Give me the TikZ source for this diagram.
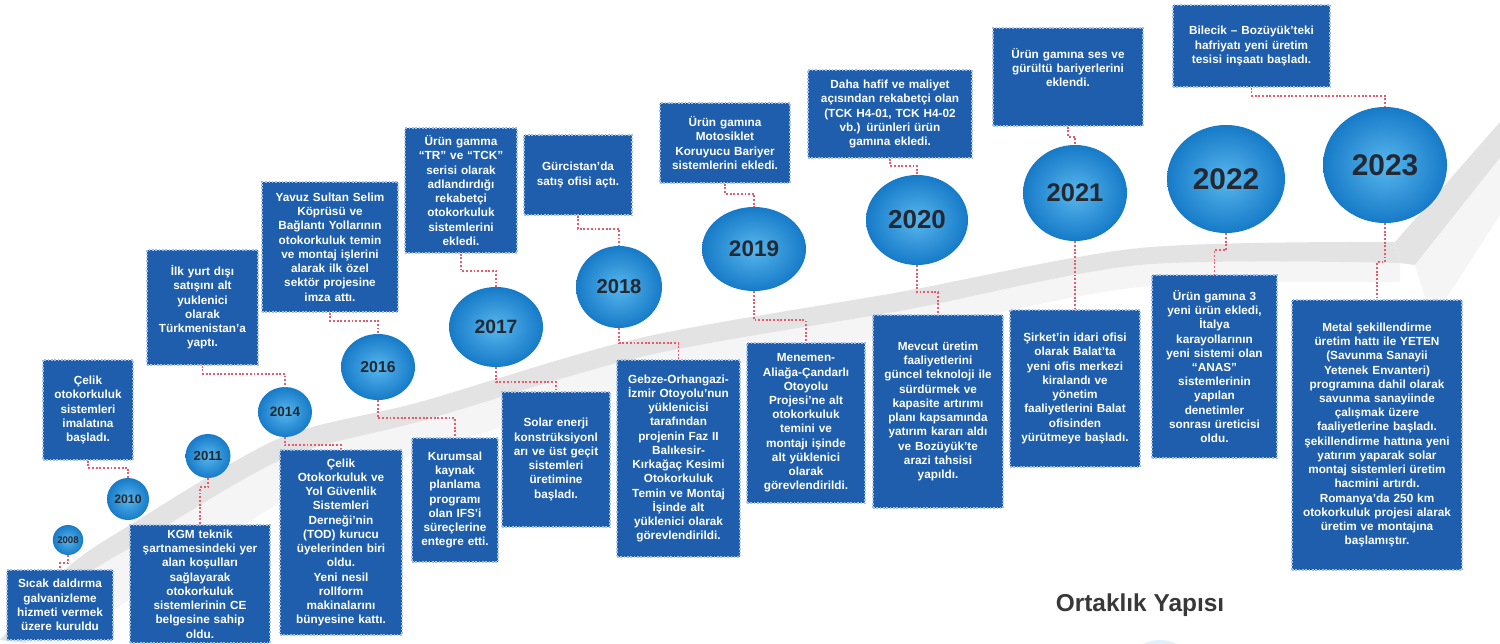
\documentclass[tikz,border=0pt]{standalone}
\usepackage{fontspec}
\setmainfont{Liberation Sans}
\usetikzlibrary{shapes.geometric,calc}

\definecolor{boxblue}{RGB}{30,94,172}
\definecolor{boxedge}{RGB}{160,192,235}
\definecolor{ball}{RGB}{45,165,232}
\definecolor{balldark}{RGB}{22,122,200}
\definecolor{linkred}{RGB}{228,92,112}
\definecolor{yeartext}{RGB}{35,40,50}

\def\px{0.02cm}

\tikzset{
  infobox/.style={fill=boxblue, draw=boxedge, densely dotted, line width=0.9pt,
    inner sep=0pt, align=center, text=white,
    font=\fontsize{6.7}{8.1}\selectfont\bfseries},
  boxsize/.code 2 args={\pgfmathsetmacro\bw{(#1-8)*0.02}%
    \tikzset{minimum width=#1*\px, minimum height=#2*\px, text width=\bw cm}},
  yearball/.style={ellipse, inner sep=0pt, inner color=ball!80!white,
    outer color=balldark, text=yeartext},
  link/.style={linkred, densely dotted, line width=1.1pt},
}

\begin{document}
\begin{tikzpicture}[x=0.02cm, y=-0.02cm]
  \useasboundingbox[fill=white] (0,0) rectangle (1500,643);

  %ribbon
  \fill[gray!8] plot[smooth] coordinates {(25,643) (80,580) (140,542) (285,458) (425,420) (645,356) (905,310) (1140,265) (1400,263)}
     -- plot[smooth] coordinates {(1400,282) (1140,287) (910,332) (650,382) (440,447) (300,492) (150,587) (60,643)} -- cycle;
  \fill[gray!22] plot[smooth] coordinates {(0,640) (67,568) (130,525) (280,438) (420,402) (640,338) (900,292) (1140,248) (1395,242)}
     -- plot[smooth] coordinates {(1400,263) (1140,265) (905,310) (645,356) (425,420) (285,458) (140,542) (80,580) (25,643)} -- cycle;
  \fill[gray!22] (1395,242) -- (1500,122) -- (1500,158) -- (1415,265) -- (1400,263) -- cycle;
  \fill[gray!8] (1415,265) -- (1500,158) -- (1500,215) -- (1432,320) -- cycle;

  %years
  \foreach \name/\x/\y/\w/\h/\fs/\yr in {y08/68/540/30/30/5.5/2008, y10/128/499/42/42/7/2010,
      y11/208/456/45/44/7.5/2011, y14/285/412/54/50/7.7/2014, y16/378/367/74/66/9/2016,
      y17/496/327/94/80/11/2017, y18/619/287/86/82/11.5/2018, y19/754/249/104/84/12.8/2019,
      y20/917/220/102/90/14.8/2020, y21/1075/193/104/96/14.5/2021, y22/1226/179/118/108/17/2022,
      y23/1385/165/124/116/17/2023}{
    \node[yearball, minimum width=\w*\px, minimum height=\h*\px] (\name) at (\x,\y)
      {\fontsize{\fs}{\fs}\selectfont\bfseries \yr};
  }

  %boxes above
  \node[infobox, boxsize={90}{100}] (b10) at (88,410) {Çelik\\otokorkuluk\\sistemleri\\imalatına\\başladı.};
  \node[infobox, boxsize={111}{115}] (b14a) at (202.5,307.5) {İlk yurt dışı\\satışını alt\\yuklenici\\olarak\\Türkmenistan'a\\yaptı.};
  \node[infobox, boxsize={136}{130}] (b16a) at (330,247) {Yavuz Sultan Selim\\Köprüsü ve\\Bağlantı Yollarının\\otokorkuluk temin\\ve montaj işlerini\\alarak ilk özel\\sektör projesine\\imza attı.};
  \node[infobox, boxsize={112}{125}] (b17a) at (461,190.5) {Ürün gamma\\“TR” ve “TCK”\\serisi olarak\\adlandırdığı\\rekabetçi\\otokorkuluk\\sistemlerini\\ekledi.};
  \node[infobox, boxsize={108}{80}] (b18a) at (578,175) {Gürcistan'da\\satış ofisi açtı.};
  \node[infobox, boxsize={130}{80}] (b19a) at (725,143) {Ürün gamına\\Motosiklet\\Koruyucu Bariyer\\sistemlerini ekledi.};
  \node[infobox, boxsize={164}{88}] (b20a) at (890,114) {Daha hafif ve maliyet\\açısından rekabetçi olan\\(TCK H4-01, TCK H4-02\\vb.) ürünleri ürün\\gamına ekledi.};
  \node[infobox, boxsize={150}{98}, text depth=48*\px] (b21a) at (1068,77) {Ürün gamına ses ve\\gürültü bariyerlerini\\eklendi.};
  \node[infobox, boxsize={157}{82}] (b23a) at (1251.5,46) {Bilecik – Bozüyük'teki\\hafriyatı yeni üretim\\tesisi inşaatı başladı.};

  %boxes below
  \node[infobox, boxsize={106}{70}] (b08) at (60,605) {Sıcak daldırma\\galvanizleme\\hizmeti vermek\\üzere kuruldu};
  \node[infobox, boxsize={140}{118}] (b11) at (200,584) {KGM teknik\\şartnamesindeki yer\\alan koşulları\\sağlayarak\\otokorkuluk\\sistemlerinin CE\\belgesine sahip\\oldu.};
  \node[infobox, boxsize={122}{185}] (b14b) at (341,542.5) {Çelik\\Otokorkuluk ve\\Yol Güvenlik\\Sistemleri\\Derneği'nin\\(TOD) kurucu\\üyelerinden biri\\oldu.\\Yeni nesil\\rollform\\makinalarını\\bünyesine kattı.};
  \node[infobox, boxsize={86}{124}] (b16b) at (455,500) {Kurumsal\\kaynak\\planlama\\programı\\olan IFS'i\\süreçlerine\\entegre etti.};
  \node[infobox, boxsize={108}{135}] (b17b) at (556,459.5) {Solar enerji\\konstrüksiyonl\\arı ve üst geçit\\sistemleri\\üretimine\\başladı.};
  \node[infobox, boxsize={123}{197}] (b18b) at (678.5,458.5) {Gebze-Orhangazi-\\İzmir Otoyolu'nun\\yüklenicisi\\tarafından\\projenin Faz II\\Balıkesir-\\Kırkağaç Kesimi\\Otokorkuluk\\Temin ve Montaj\\İşinde alt\\yüklenici olarak\\görevlendirildi.};
  \node[infobox, boxsize={118}{160}] (b19b) at (806,423) {Menemen-\\Aliağa-Çandarlı\\Otoyolu\\Projesi'ne alt\\otokorkuluk\\temini ve\\montajı işinde\\alt yüklenici\\olarak\\görevlendirildi.};
  \node[infobox, boxsize={130}{193}] (b20b) at (938,411.5) {Mevcut üretim\\faaliyetlerini\\güncel teknoloji ile\\sürdürmek ve\\kapasite artırımı\\planı kapsamında\\yatırım kararı aldı\\ve Bozüyük'te\\arazi tahsisi\\yapıldı.};
  \node[infobox, boxsize={130}{157}] (b21b) at (1075,388.5) {Şirket'in idari ofisi\\olarak Balat'ta\\yeni ofis merkezi\\kiralandı ve\\yönetim\\faaliyetlerini Balat\\ofisinden\\yürütmeye başladı.};
  \node[infobox, boxsize={125}{183}] (b22b) at (1214.5,366.5) {Ürün gamına 3\\yeni ürün ekledi,\\İtalya\\karayollarının\\yeni sistemi olan\\“ANAS”\\sistemlerinin\\yapılan\\denetimler\\sonrası üreticisi\\oldu.};
  \node[infobox, boxsize={170}{270}] (b23b) at (1377,435) {Metal şekillendirme\\üretim hattı ile YETEN\\(Savunma Sanayii\\Yetenek Envanteri)\\programına dahil olarak\\savunma sanayiinde\\çalışmak üzere\\faaliyetlerine başladı.\\şekillendirme hattına yeni\\yatırım yaparak solar\\montaj sistemleri üretim\\hacmini artırdı.\\Romanya'da 250 km\\otokorkuluk projesi alarak\\üretim ve montajına\\başlamıştır.};

  %links
  \foreach \a/\b/\d in {y08.south/b08.north/8, b10.south/y10.north/7, y11.south/b11.north/9,
      b14a.south/y14.north/8, b16a.south/y16.north/8, y14.south/b14b.north/8,
      y16.south/b16b.north/18, b17a.south/y17.north/17, b18a.south/y18.north/13,
      y17.south/b17b.north/15, y18.south/b18b.north/15, b19a.south/y19.north/10,
      y19.south/b19b.north/29, b20a.south/y20.north/7, y20.south/b20b.north/27,
      b21a.south/y21.north/10, y21.south/b21b.north/30, b23a.south/y23.north/8,
      y22.south/b22b.north/17, y23.south/b23b.north/39}{
    \draw[link] (\a) -- ++(0,\d) -| (\b);
  }

  %partnership
  \fill[ball!15] (1160,695) ellipse [x radius=45, y radius=55];
  \node[text=black!78, font=\fontsize{13.9}{14}\selectfont\bfseries] (ortak) at (1140,605) {Ortaklık Yapısı};
\end{tikzpicture}
\end{document}
